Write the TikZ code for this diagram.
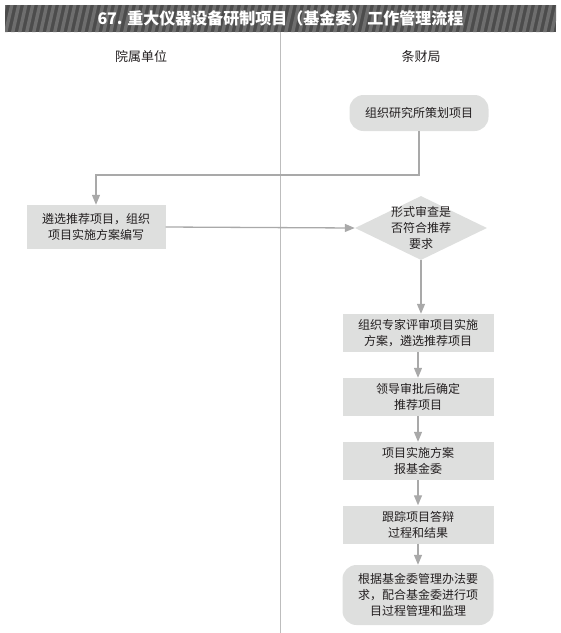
\documentclass[tikz,border=0pt]{standalone}
\usepackage{fontspec}
\setmainfont{Noto Sans CJK SC}
\usetikzlibrary{shapes.geometric,arrows.meta}
\definecolor{boxgray}{HTML}{DEDFDE}
\definecolor{linegray}{HTML}{A9A9A9}
\definecolor{rulegray}{HTML}{BDBDBD}
\definecolor{bardark}{HTML}{4C4C4C}
\definecolor{barstripe}{HTML}{6E6E6E}
\definecolor{inkgray}{HTML}{231F20}
\tikzset{
  txt/.style={font=\fontsize{12}{16}\selectfont, text=inkgray, align=center},
  stepbox/.style={txt, fill=boxgray, minimum width=151pt, minimum height=38pt, inner sep=0pt},
  endbox/.style={stepbox, rounded corners=14pt},
  decision/.style={diamond, fill=boxgray, minimum width=132pt, minimum height=64pt, inner sep=0pt},
  flow/.style={draw=linegray, line width=1.3pt, -{Triangle[length=10pt,width=8pt]}},
}
\begin{document}
\begin{tikzpicture}[x=1pt,y=-1pt]
\useasboundingbox (0,0) rectangle (561,633);
% title bar
\begin{scope}
\clip (5,5) rectangle (556,32);
\fill[bardark] (5,5) rectangle (556,32);
\foreach \s in {-10,-3,...,570}
  \fill[barstripe] (\s,32) -- ++(3.5,0) -- ++(6,-27) -- ++(-3.5,0) -- cycle;
\end{scope}
\node[font=\fontsize{16}{18}\selectfont\bfseries, text=white] (title) at (280.5,18.5)
  {67. 重大仪器设备研制项目（基金委）工作管理流程};
% lanes
\coordinate (lanetop) at (280,32);
\coordinate (lanebot) at (280,633);
\draw[rulegray, line width=1pt] (lanetop) -- (lanebot);
\node[txt, font=\fontsize{13}{16}\selectfont] (unit) at (141,57) {院属单位};
\node[txt, font=\fontsize{13}{16}\selectfont] (bureau) at (421,57) {条财局};
% steps
\node[endbox, minimum width=139pt, minimum height=36pt] (plan) at (419,113) {组织研究所策划项目};
\node[stepbox, minimum width=139pt, minimum height=44pt] (select) at (96,227) {遴选推荐项目，组织\\项目实施方案编写};
\node[decision, label={[txt]center:形式审查是\\否符合推荐\\要求}] (check) at (421,228) {};
\node[stepbox] (review) at (418,333) {组织专家评审项目实施\\方案，遴选推荐项目};
\node[stepbox] (approve) at (418,397) {领导审批后确定\\推荐项目};
\node[stepbox] (report) at (418,461) {项目实施方案\\报基金委};
\node[stepbox] (track) at (418,524.5) {跟踪项目答辩\\过程和结果};
\node[endbox, minimum height=60pt] (supervise) at (418,595) {根据基金委管理办法要\\求，配合基金委进行项\\目过程管理和监理};
% connectors
\coordinate (bend) at (96,175);
\draw[flow] (plan.south) |- (bend) -- (select.north);
\draw[flow] (select.east) -- (check.west);
\draw[flow] (check.south) -- (review.north -| check.south);
\draw[flow] (review) -- (approve);
\draw[flow] (approve) -- (report);
\draw[flow] (report) -- (track);
\draw[flow] (track) -- (supervise);
\end{tikzpicture}
\end{document}
